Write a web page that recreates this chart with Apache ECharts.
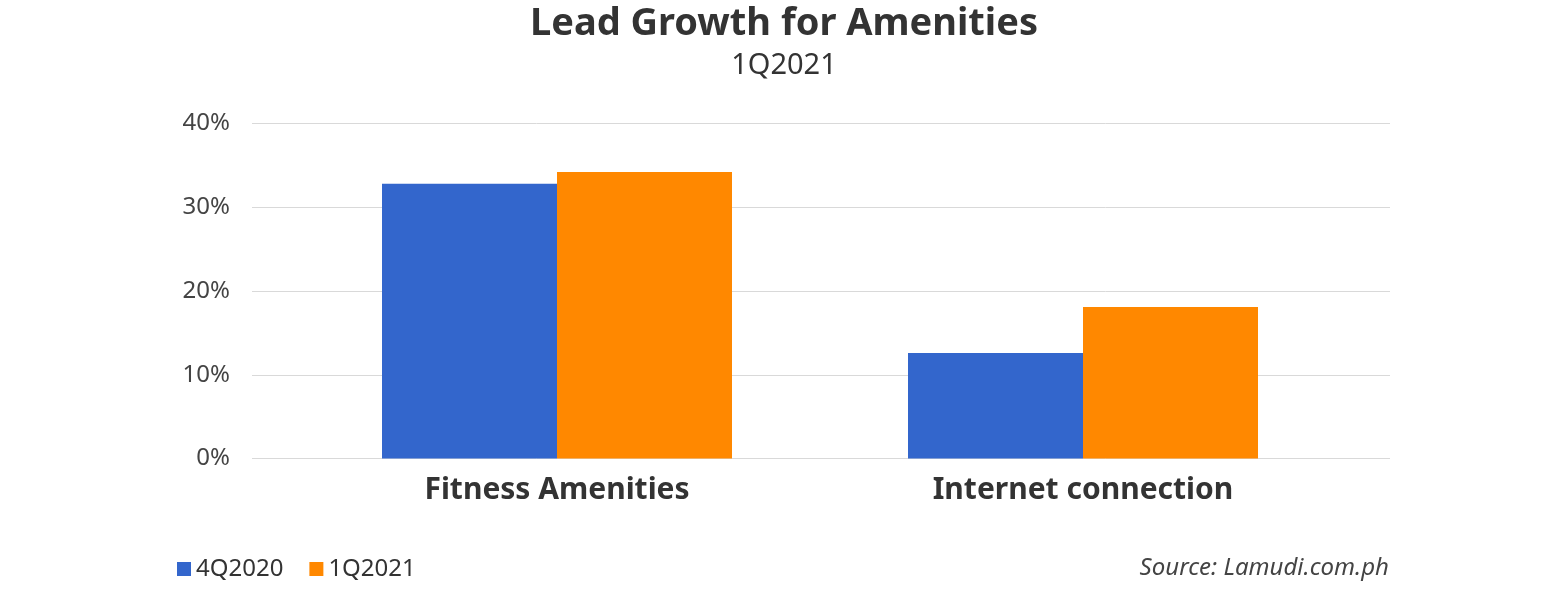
<!DOCTYPE html>
<html>
<head>
<meta charset="utf-8">
<script src="https://cdn.jsdelivr.net/npm/echarts@6/dist/echarts.min.js"></script>
<style>html,body{margin:0;padding:0;background:#fff;}#c{width:1568px;height:595px;}</style>
</head>
<body>
<div id="c"></div>
<script>
const categories = ['Fitness Amenities', 'Internet connection'];
const series4Q2020 = [32.8, 12.6];
const series1Q2021 = [34.2, 18.1];
const seriesNames = ['4Q2020', '1Q2021'];
const yTicks = [0, 10, 20, 30, 40];

const FONT = 'Noto Sans';
const chart = echarts.init(document.getElementById('c'));
chart.setOption({
  backgroundColor: '#fff',
  textStyle: { fontFamily: FONT },
  title: [
    {
      text: 'Lead Growth for Amenities',
      subtext: '1Q2021',
      left: 'center',
      top: 0,
      itemGap: 8,
      textStyle: { fontFamily: FONT, fontSize: 38, fontWeight: 'bold', color: '#333' },
      subtextStyle: { fontFamily: FONT, fontSize: 29, color: '#333' }
    },
    {
      text: 'Source: Lamudi.com.ph',
      right: 174,
      top: 551,
      textStyle: { fontFamily: FONT, fontSize: 24, fontStyle: 'italic', fontWeight: 'normal', color: '#444' }
    }
  ],
  legend: {
    data: seriesNames,
    left: 172,
    top: 552,
    icon: 'rect',
    itemWidth: 14,
    itemHeight: 14,
    itemGap: 26,
    textStyle: { fontFamily: FONT, fontSize: 24, color: '#333' }
  },
  grid: [
    { left: 252, right: 178, top: 123.5, bottom: 136.5 },
    { left: 294, right: 222, top: 123.5, bottom: 136.5 }
  ],
  xAxis: [
    { gridIndex: 0, type: 'category', data: categories, show: false },
    {
      gridIndex: 1, type: 'category', data: categories,
      axisLine: { show: false },
      axisTick: { show: false },
      axisLabel: { fontFamily: FONT, fontSize: 30, fontWeight: 'bold', color: '#333', margin: 17 }
    }
  ],
  yAxis: [
    {
      gridIndex: 0, type: 'value', min: yTicks[0], max: yTicks[yTicks.length - 1], interval: 10,
      axisLine: { show: false },
      axisTick: { show: false },
      axisLabel: { formatter: '{value}%', fontFamily: FONT, fontSize: 24, color: '#444', margin: 22 },
      splitLine: { lineStyle: { color: '#d9d9d9', width: 1 } }
    },
    {
      gridIndex: 1, type: 'value', min: yTicks[0], max: yTicks[yTicks.length - 1], interval: 10,
      show: false
    }
  ],
  series: [
    {
      name: seriesNames[0], type: 'bar', xAxisIndex: 1, yAxisIndex: 1,
      data: series4Q2020, barWidth: 175, barGap: '0%',
      itemStyle: { color: '#3366cc' }
    },
    {
      name: seriesNames[1], type: 'bar', xAxisIndex: 1, yAxisIndex: 1,
      data: series1Q2021, barWidth: 175, barGap: '0%',
      itemStyle: { color: '#ff8800' }
    }
  ],
  animation: false
});
</script>
</body>
</html>
